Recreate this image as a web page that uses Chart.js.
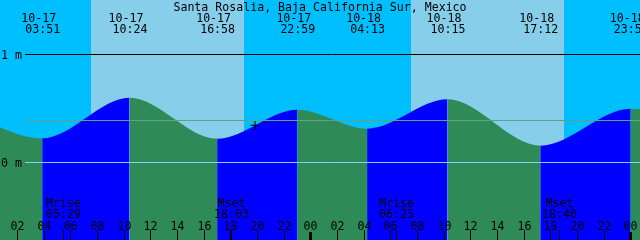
<!DOCTYPE html>
<html>
<head>
<meta charset="utf-8">
<script src="https://cdn.jsdelivr.net/npm/chart.js@4.4.0/dist/chart.umd.min.js"></script>
<style>
    html, body { margin: 0; padding: 0; background: #fff; }
    #tideChart { display: block; }
</style>
</head>
<body>
<canvas id="tideChart" width="640" height="240"></canvas>
<script>
const chartTitle = 'Santa Rosalia, Baja California Sur, Mexico';

// tide highs and lows (first and last one sit just outside the window)
const tideDates  = ['10-16', '10-17', '10-17', '10-17', '10-17', '10-18', '10-18', '10-18', '10-18', '10-19'];
const tideTimes  = ['21:30', '03:51', '10:24', '16:58', '22:59', '04:13', '10:15', '17:12', '23:59', '06:10'];
const tideLevels = [0.50, 0.224, 0.60, 0.22, 0.489, 0.313, 0.585, 0.156, 0.498, 0.27];

const sunDates = ['10-17', '10-18'];
const sunrise  = ['07:31', '07:31'];
const sunset   = ['18:59', '18:59'];

const moonEvents = ['Mrise', 'Mset', 'Mrise', 'Mset'];
const moonDates  = ['10-17', '10-17', '10-18', '10-18'];
const moonTimes  = ['05:29', '18:03', '06:25', '18:40'];

const hourTicks = [2, 4, 6, 8, 10, 12, 14, 16, 18, 20, 22, 24, 26, 28, 30, 32, 34, 36, 38, 40, 42, 44, 46, 48];
const levelTicks  = [1, 0];
const levelLabels = ['1 m', '0 m'];
const meanLevel = 0.389;

const nowDate = '10-17';
const nowTime = '19:49';
const nowLevel = 0.345;

const windowStart = ['10-17', '00:41'];
const windowHours = 48;

const nightColor = '#00BFFF';
const dayColor   = '#87CEEB';
const risingColor  = '#0000FF';
const fallingColor = '#2E8B57';
const font = '11.6px "DejaVu Sans Mono"';

function toHours(date, time) {
    const day = Number(date.slice(3)) - 17;
    const [h, m] = time.split(':').map(Number);
    return day * 24 + h + m / 60;
}

const xMin = toHours(windowStart[0], windowStart[1]);
const xMax = xMin + windowHours;

const tidePoints = tideDates.map((d, i) => ({ x: toHours(d, tideTimes[i]), y: tideLevels[i] }));

const tideDecor = {
    id: 'tideDecor',
    beforeDatasetsDraw(chart) {
        const { ctx, width, height, scales: { x } } = chart;
        ctx.save();
        ctx.fillStyle = nightColor;
        ctx.fillRect(0, 0, width, height);
        ctx.fillStyle = dayColor;
        sunDates.forEach((d, i) => {
            const x0 = Math.round(x.getPixelForValue(toHours(d, sunrise[i])));
            const x1 = Math.round(x.getPixelForValue(toHours(d, sunset[i])));
            ctx.fillRect(x0, 0, x1 - x0, height);
        });
        ctx.restore();
    },
    afterDatasetsDraw(chart) {
        const { ctx, width, scales: { x, y } } = chart;
        ctx.save();

        // level lines
        const hline = (v, color) => {
            const py = Math.round(y.getPixelForValue(v) - 0.5) + 0.5;
            ctx.strokeStyle = color;
            ctx.lineWidth = 1;
            ctx.beginPath();
            ctx.moveTo(25, py);
            ctx.lineTo(width, py);
            ctx.stroke();
        };
        hline(meanLevel, '#5FA383');
        hline(0, '#87CEFA');
        hline(1, '#000000');

        ctx.font = font;
        ctx.fillStyle = '#000';
        ctx.textBaseline = 'alphabetic';

        ctx.textAlign = 'left';
        levelTicks.forEach((v, i) => {
            ctx.fillText(levelLabels[i], 1, y.getPixelForValue(v) + 4.5);
        });

        ctx.textAlign = 'center';
        ctx.fillText(chartTitle, 320, 10.5);

        // high / low labels
        tideDates.forEach((d, i) => {
            const t = toHours(d, tideTimes[i]);
            if (t < xMin || t > xMax) return;
            const px = x.getPixelForValue(t);
            ctx.fillText(d, px - 3.5, 21.5);
            ctx.fillText(tideTimes[i], px + 0.5, 32.5);
        });

        // hour ticks
        hourTicks.forEach(h => {
            const px = Math.round(x.getPixelForValue(h) - 0.5);
            if (h % 24 === 0) {
                ctx.fillRect(px - 1, 232, 3, 8);
            } else {
                ctx.fillRect(px, 230, 1, 10);
            }
            ctx.fillText(String(h % 24).padStart(2, '0'), px + 0.5, 229.5);
        });

        // moon rise / set
        moonEvents.forEach((name, i) => {
            const px = Math.round(x.getPixelForValue(toHours(moonDates[i], moonTimes[i])) - 0.5);
            ctx.fillRect(px, 230, 1, 10);
            ctx.fillText(name, px + 0.5, 206.5);
            ctx.fillText(moonTimes[i], px + 0.5, 217.5);
        });

        ctx.restore();
    }
};

const ctx = document.getElementById('tideChart').getContext('2d');
new Chart(ctx, {
    type: 'line',
    data: {
        datasets: [
            {
                label: 'now',
                data: [{ x: toHours(nowDate, nowTime), y: nowLevel }],
                showLine: false,
                pointStyle: 'cross',
                pointRadius: 4.5,
                borderColor: '#000',
                borderWidth: 1,
            },
            {
                label: 'tide',
                data: tidePoints,
                fill: 'start',
                cubicInterpolationMode: 'monotone',
                borderWidth: 0,
                pointRadius: 0,
                backgroundColor: fallingColor,
                segment: {
                    backgroundColor: c => (c.p1.y < c.p0.y ? risingColor : fallingColor)
                }
            }
        ]
    },
    options: {
        responsive: false,
        animation: false,
        events: [],
        layout: { padding: 0, autoPadding: false },
        plugins: {
            legend: { display: false },
            tooltip: { enabled: false }
        },
        scales: {
            x: { type: 'linear', min: xMin, max: xMax, display: false },
            y: { min: -0.7176, max: 1.5046, display: false }
        }
    },
    plugins: [tideDecor]
});
</script>
</body>
</html>
